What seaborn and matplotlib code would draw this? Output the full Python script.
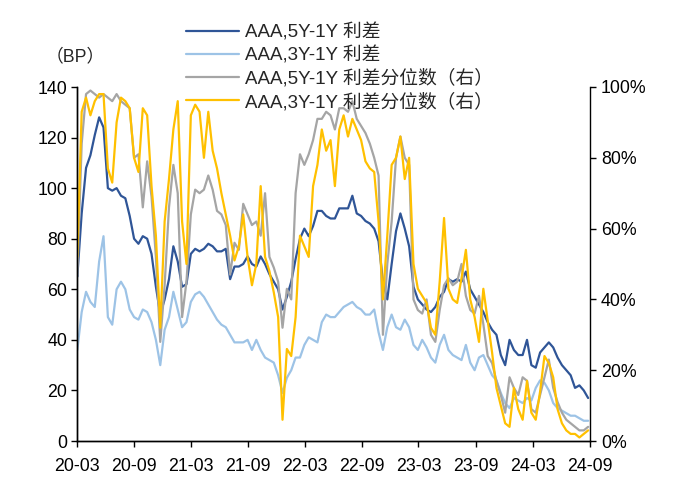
import matplotlib
matplotlib.use("Agg")
import matplotlib.pyplot as plt
import matplotlib.dates as mdates
from matplotlib.ticker import FuncFormatter, MultipleLocator
import numpy as np
import pandas as pd
import seaborn as sns

# Biweekly observations, 2020-03 to 2024-08
start_date = "2020-03-02"

spread_5y = [65, 90, 108, 113, 121, 128, 124, 100, 99, 100, 97, 96, 89, 80, 78, 81, 80, 74, 61, 50,
             56, 64, 77, 71, 61, 62, 74, 76, 75, 76, 78, 77, 75, 75, 76, 64, 69, 69, 70, 73,
             70, 69, 73, 70, 66, 63, 60, 52, 57, 63, 72, 80, 84, 81, 85, 91, 91, 89, 88, 88,
             92, 92, 92, 97, 90, 89, 87, 86, 84, 79, 63, 56, 70, 83, 90, 84, 77, 61, 56, 54,
             52, 51, 53, 57, 59, 64, 63, 64, 63, 67, 60, 57, 54, 51, 47, 44, 42, 34, 30, 40,
             36, 34, 34, 40, 30, 29, 35, 37, 39, 37, 33, 30, 28, 26, 21, 22, 20, 17]

spread_3y = [36, 51, 59, 55, 53, 71, 81, 49, 46, 60, 63, 60, 52, 49, 48, 52, 51, 47, 40, 30,
             44, 49, 59, 52, 45, 47, 55, 58, 59, 57, 54, 51, 48, 46, 45, 42, 39, 39, 39, 40,
             36, 40, 36, 33, 32, 31, 26, 19, 25, 28, 33, 33, 38, 41, 40, 39, 47, 50, 49, 49,
             51, 53, 54, 55, 53, 52, 50, 50, 52, 43, 36, 45, 50, 45, 44, 48, 45, 38, 36, 40,
             37, 33, 31, 38, 42, 36, 34, 33, 32, 38, 31, 28, 33, 34, 30, 26, 24, 19, 15, 13,
             17, 16, 15, 17, 16, 21, 24, 23, 20, 15, 13, 12, 11, 10, 10, 9, 8, 8]

pct_5y = [47, 84, 98, 99, 98, 97, 98, 97, 96, 98, 96, 95, 94, 80, 81, 66, 79, 69, 52, 28,
          44, 66, 78, 70, 35, 45, 64, 71, 70, 71, 75, 71, 65, 64, 61, 47, 56, 54, 67, 64,
          61, 62, 58, 70, 52, 49, 45, 32, 43, 40, 70, 81, 78, 81, 85, 91, 91, 93, 92, 88,
          94, 94, 93, 96, 91, 89, 87, 84, 80, 75, 30, 50, 62, 80, 86, 80, 78, 40, 37, 36,
          40, 30, 28, 37, 44, 46, 44, 45, 50, 41, 37, 36, 41, 33, 24, 22, 17, 13, 8, 18,
          15, 13, 18, 17, 9, 8, 13, 18, 23, 15, 11, 8, 6, 5, 4, 3, 3, 4]

pct_3y = [52, 93, 97, 92, 96, 98, 98, 77, 73, 90, 97, 96, 94, 80, 76, 94, 92, 72, 58, 32,
          62, 74, 88, 96, 62, 50, 92, 95, 93, 80, 93, 82, 77, 70, 64, 58, 51, 55, 64, 52,
          44, 50, 72, 52, 48, 42, 35, 6, 26, 24, 35, 58, 55, 52, 72, 78, 88, 82, 85, 72,
          88, 92, 86, 91, 88, 85, 79, 77, 76, 62, 40, 58, 78, 80, 86, 74, 80, 50, 43, 41,
          39, 32, 30, 45, 63, 43, 40, 39, 46, 54, 40, 35, 28, 43, 34, 25, 15, 10, 5, 4,
          15, 9, 6, 17, 8, 6, 14, 24, 22, 18, 9, 5, 3, 2, 2, 1, 2, 3]

series_labels = ["AAA,5Y-1Y 利差", "AAA,3Y-1Y 利差",
                 "AAA,5Y-1Y 利差分位数（右）", "AAA,3Y-1Y 利差分位数（右）"]
tick_months = ["2020-03-01", "2020-09-01", "2021-03-01", "2021-09-01", "2022-03-01",
               "2022-09-01", "2023-03-01", "2023-09-01", "2024-03-01", "2024-09-01"]

dates = pd.date_range(start_date, periods=len(spread_5y), freq="14D")
df = pd.DataFrame({"date": dates, "s5": spread_5y, "s3": spread_3y,
                   "p5": np.array(pct_5y) / 100.0, "p3": np.array(pct_3y) / 100.0})

sns.set_style("ticks")
plt.rcParams["font.family"] = ["Liberation Sans", "Noto Sans CJK SC", "DejaVu Sans"]
plt.rcParams["font.size"] = 12.8

colors = ["#2F5597", "#9DC3E6", "#A5A5A5", "#FFC000"]
lw = 1.6

fig = plt.figure(figsize=(6.83, 4.90), dpi=100)
ax = fig.add_axes([77 / 683, 1 - 441 / 490, (590 - 77) / 683, (441 - 87) / 490])
ax2 = ax.twinx()

sns.lineplot(data=df, x="date", y="s5", ax=ax, color=colors[0], lw=lw, label=series_labels[0], legend=False)
sns.lineplot(data=df, x="date", y="s3", ax=ax, color=colors[1], lw=lw, label=series_labels[1], legend=False)
sns.lineplot(data=df, x="date", y="p5", ax=ax2, color=colors[2], lw=lw, label=series_labels[2], legend=False)
sns.lineplot(data=df, x="date", y="p3", ax=ax2, color=colors[3], lw=lw, label=series_labels[3], legend=False)

ax.set_xlim(pd.Timestamp("2020-03-01"), pd.Timestamp("2024-09-01"))
ax.set_ylim(0, 140)
ax2.set_ylim(0, 1)
ax.yaxis.set_major_locator(MultipleLocator(20))
ax2.yaxis.set_major_locator(MultipleLocator(0.2))
ax2.yaxis.set_major_formatter(FuncFormatter(lambda v, p: f"{v * 100:.0f}%"))
ax.set_xticks(pd.to_datetime(tick_months))
ax.xaxis.set_major_formatter(mdates.DateFormatter("%y-%m"))

for a in (ax, ax2):
    a.set_xlabel("")
    a.set_ylabel("")
    a.spines["top"].set_visible(False)
    for s in ("left", "right", "bottom"):
        a.spines[s].set_color("black")
        a.spines[s].set_linewidth(1.0)
    a.tick_params(direction="out", length=4, width=1.0, colors="black", labelsize=12.8)
ax.spines["right"].set_visible(False)
ax2.spines["right"].set_visible(True)
ax.tick_params(axis="x", pad=8)
ax.tick_params(axis="y", pad=3)
ax2.tick_params(axis="y", pad=4)

fig.text(75 / 683, 1 - 57 / 490, "（BP）", ha="center", va="center", fontsize=12.8)

handles = ax.get_lines()[:2] + ax2.get_lines()[:2]
leg = fig.legend(handles, series_labels, loc="upper left",
                 bbox_to_anchor=(186 / 683, 1 - 23 / 490), frameon=False,
                 handlelength=2.8, handletextpad=0.35, labelspacing=0.26,
                 borderpad=0, borderaxespad=0, fontsize=13.5)

fig.savefig("out.png", dpi=100)
